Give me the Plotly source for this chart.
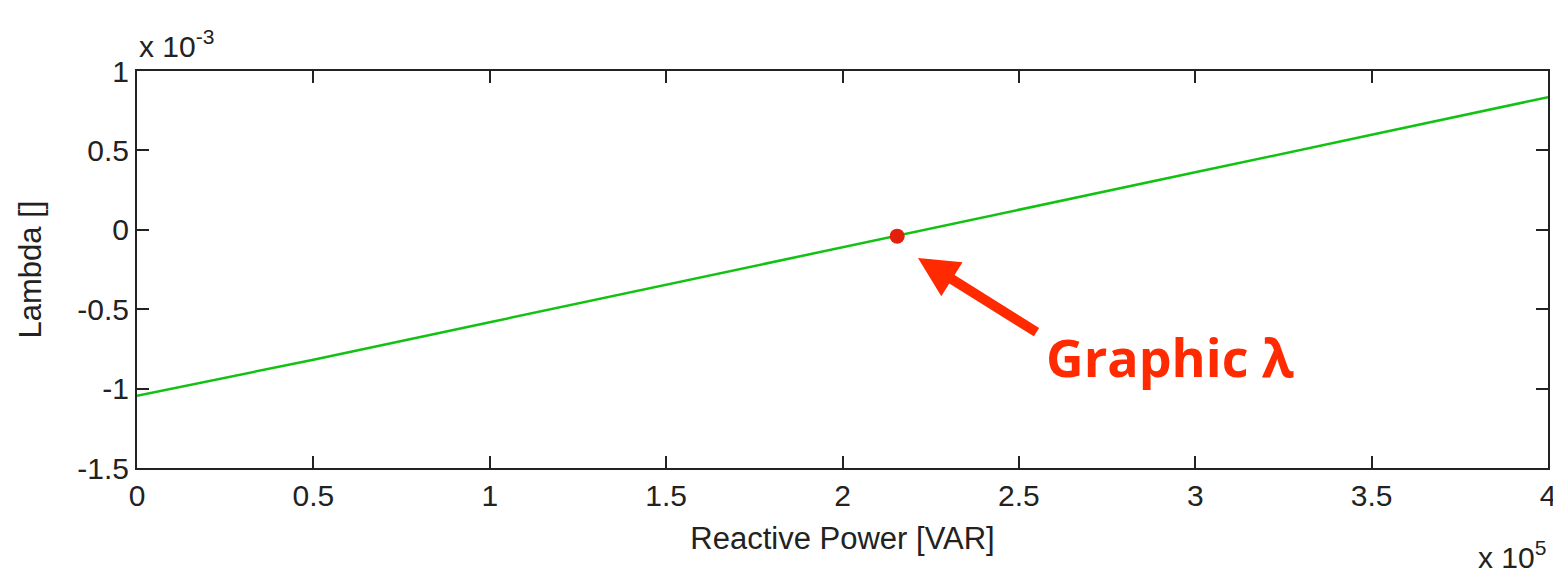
import plotly.graph_objects as go

# Data
reactive_power = [0, 50000, 100000, 150000, 200000, 250000, 300000, 350000, 400000]
lambda_values = [-1.045e-3, -0.818e-3, -0.582e-3, -0.347e-3, -0.112e-3, 0.125e-3, 0.362e-3, 0.598e-3, 0.835e-3]
graphic_point_x = [2.155e5]
graphic_point_y = [-0.04e-3]

x_tickvals = [0, 0.5e5, 1e5, 1.5e5, 2e5, 2.5e5, 3e5, 3.5e5, 4e5]
x_ticktext = ["0", "0.5", "1", "1.5", "2", "2.5", "3", "3.5", "4"]
y_tickvals = [-1.5e-3, -1e-3, -0.5e-3, 0, 0.5e-3, 1e-3]
y_ticktext = ["-1.5", "-1", "-0.5", "0", "0.5", "1"]

FONT = "Liberation Sans"
RED = "#ff2a00"

fig = go.Figure()
fig.add_trace(go.Scatter(x=reactive_power, y=lambda_values, mode="lines",
                         line=dict(color="#12c212", width=2.5), showlegend=False))
fig.add_trace(go.Scatter(x=graphic_point_x, y=graphic_point_y, mode="markers",
                         marker=dict(color="#e3200b", size=15, line=dict(width=0)),
                         showlegend=False))

axis_common = dict(showline=True, linecolor="#222", linewidth=2, mirror="ticks",
                   ticks="inside", ticklen=12, tickwidth=2, tickcolor="#222",
                   showgrid=False, zeroline=False, ticklabeloverflow="allow",
                   automargin=False,
                   tickfont=dict(family=FONT, size=30, color="#222"))

fig.update_xaxes(range=[0, 4e5], tickvals=x_tickvals, ticktext=x_ticktext,
                 title=dict(text="Reactive Power [VAR]", standoff=16,
                            font=dict(family=FONT, size=31, color="#222")),
                 **axis_common)
fig.update_yaxes(range=[-1.5e-3, 1e-3], tickvals=y_tickvals, ticktext=y_ticktext,
                 title=dict(text="Lambda []", standoff=26,
                            font=dict(family=FONT, size=31, color="#222")),
                 **axis_common)

# exponent labels
fig.add_annotation(xref="paper", yref="paper", x=0, y=1, xanchor="left", yanchor="bottom",
                   yshift=6, showarrow=False,
                   text="x 10<sup>-3</sup>", font=dict(family=FONT, size=30, color="#222"))
fig.add_annotation(xref="paper", yref="paper", x=1, y=0, xanchor="right", yanchor="top",
                   yshift=-66, showarrow=False,
                   text="x 10<sup>5</sup>", font=dict(family=FONT, size=30, color="#222"))

# arrow and label
fig.add_annotation(x=2.214e5, y=-0.178e-3, xref="x", yref="y",
                   axref="pixel", ayref="pixel", ax=120, ay=75,
                   showarrow=True, arrowhead=2, arrowsize=0.8, arrowwidth=10,
                   arrowcolor=RED, text="")
fig.add_annotation(x=2.928e5, y=-0.80e-3, xref="x", yref="y", showarrow=False,
                   xanchor="center", yanchor="middle",
                   text="<b>Graphic λ</b>", font=dict(family="Open Sans", size=52, color=RED))

fig.update_layout(width=1553, height=568, margin=dict(l=129, r=13, t=63, b=108),
                  plot_bgcolor="white", paper_bgcolor="white")

fig.write_html("out.html")
